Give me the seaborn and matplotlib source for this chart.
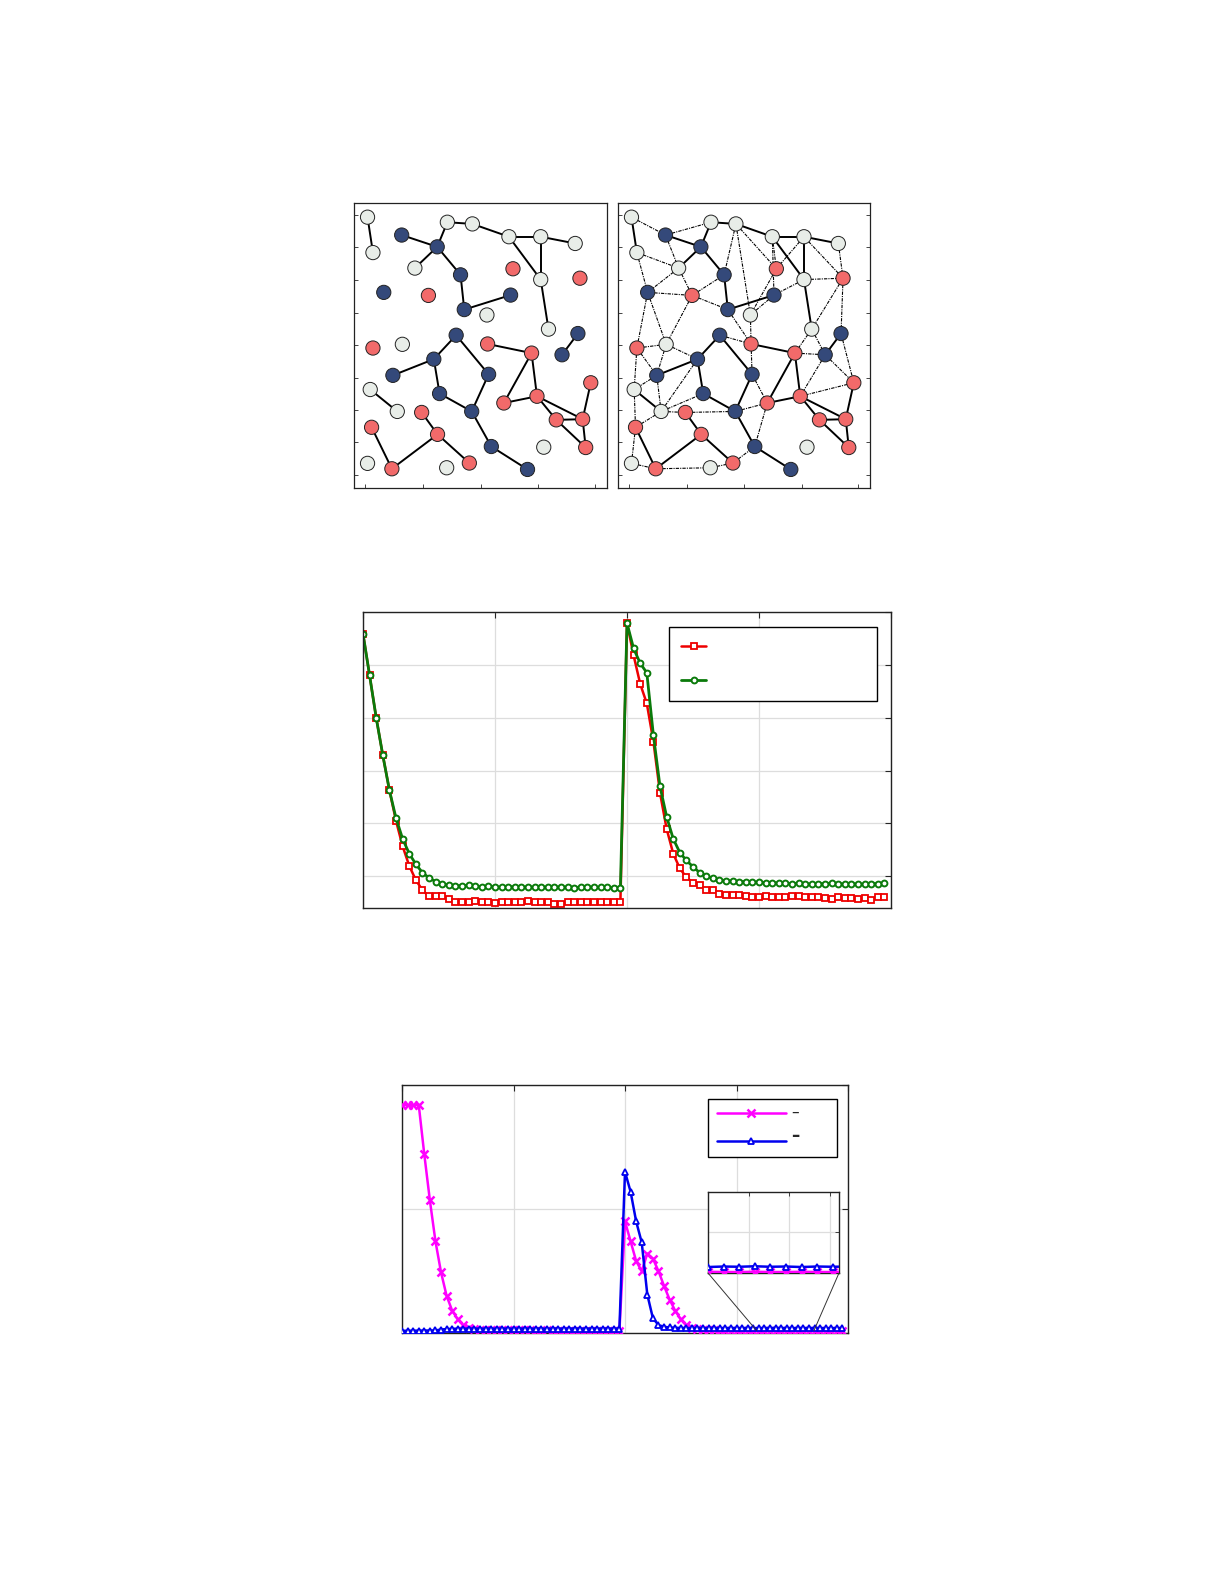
import matplotlib
matplotlib.use("Agg")
import matplotlib.pyplot as plt
import seaborn as sns
import pandas as pd
from matplotlib.patches import ConnectionPatch

sns.set_style("white")
plt.rcParams['font.family'] = ['DejaVu Sans']

# ---------------- network data ----------------
node_x = [82, 98, 183, 288, 318, 392, 222, 357, 512, 500, 594, 696, 594, 710, 130, 262, 368, 505, 435, 617,
          98, 185, 344, 437, 567, 704, 657, 278, 157, 440, 742, 90, 295, 485, 583, 170, 242, 390, 640, 718,
          94, 289, 448, 603, 727, 82, 154, 316, 383, 555]
node_y = [67, 172, 120, 155, 82, 87, 218, 238, 220, 125, 125, 145, 252, 248, 290, 299, 341, 298, 357, 399,
          455, 444, 417, 443, 470, 412, 475, 488, 536, 533, 558, 578, 590, 618, 598, 643, 646, 643, 668, 666,
          690, 711, 747, 749, 750, 797, 813, 810, 796, 815]
node_group = ["L", "L", "N", "N", "L", "L", "L", "N", "R", "L", "L", "L", "L", "R", "N", "R", "N", "N", "L", "L",
              "R", "L", "N", "R", "R", "N", "N", "N", "N", "N", "R", "L", "N", "R", "R", "L", "R", "N", "R", "R",
              "R", "R", "N", "L", "R", "L", "R", "L", "R", "N"]
solid_edges = [(1, 2), (3, 4), (4, 5), (4, 7), (5, 6), (6, 10), (10, 11), (11, 12), (10, 13), (11, 13), (13, 20),
               (4, 8), (8, 17), (17, 18), (26, 27), (24, 25), (25, 34), (25, 35), (34, 35), (23, 28), (23, 30),
               (28, 29), (28, 33), (33, 38), (30, 38), (38, 43), (43, 50), (32, 36), (35, 39), (35, 40), (39, 40),
               (40, 31), (40, 45), (39, 45), (37, 42), (42, 47), (42, 49), (41, 47)]
dashed_edges = [(1, 3), (2, 7), (3, 7), (3, 5), (2, 15), (7, 15), (6, 8), (6, 9), (6, 19), (7, 16), (15, 16),
                (16, 8), (16, 17), (16, 22), (15, 22), (15, 21), (10, 9), (10, 18), (11, 9), (13, 14), (12, 14),
                (11, 14), (13, 18), (14, 26), (14, 20), (18, 19), (9, 19), (19, 24), (17, 24), (23, 24), (24, 30),
                (20, 25), (20, 27), (25, 27), (27, 31), (26, 31), (27, 35), (22, 28), (22, 29), (21, 22), (21, 29),
                (21, 32), (29, 32), (29, 36), (28, 36), (36, 37), (37, 38), (38, 34), (30, 34), (34, 43), (32, 41),
                (36, 41), (41, 46), (46, 47), (47, 48), (48, 49), (49, 43), (31, 35), (36, 33)]
group_colors = {"N": "#34497a", "R": "#f26a6a", "L": "#e8ede8"}
net_xticks = [75, 247, 417, 587, 755]
net_yticks = [60, 155, 253, 350, 447, 545, 640, 735, 830]

# ---------------- middle chart data ----------------
red_vals = [5.59, 4.80, 4.00, 3.29, 2.63, 2.05, 1.57, 1.20, 0.93, 0.74, 0.62, 0.62, 0.62, 0.57, 0.52, 0.52, 0.52,
            0.53, 0.51, 0.51, 0.50, 0.52, 0.51, 0.51, 0.52, 0.53, 0.52, 0.52, 0.52, 0.48, 0.48, 0.52, 0.52, 0.51,
            0.52, 0.51, 0.51, 0.52, 0.52, 0.52,
            5.79, 5.18, 4.64, 4.27, 3.55, 2.58, 1.90, 1.43, 1.15, 0.98, 0.88, 0.83, 0.75, 0.74, 0.66, 0.65, 0.65,
            0.64, 0.62, 0.61, 0.61, 0.62, 0.61, 0.60, 0.61, 0.63, 0.62, 0.61, 0.60, 0.61, 0.58, 0.57, 0.60, 0.58,
            0.58, 0.57, 0.58, 0.56, 0.60, 0.60]
green_vals = [5.59, 4.80, 4.00, 3.29, 2.63, 2.10, 1.71, 1.43, 1.23, 1.07, 0.97, 0.90, 0.86, 0.83, 0.82, 0.82, 0.83,
              0.81, 0.80, 0.81, 0.80, 0.79, 0.80, 0.80, 0.79, 0.80, 0.79, 0.80, 0.79, 0.79, 0.80, 0.79, 0.78, 0.80,
              0.80, 0.79, 0.79, 0.79, 0.78, 0.78,
              5.79, 5.31, 5.03, 4.85, 3.67, 2.70, 2.13, 1.71, 1.45, 1.30, 1.18, 1.07, 1.01, 0.96, 0.93, 0.92, 0.91,
              0.90, 0.90, 0.89, 0.89, 0.88, 0.88, 0.87, 0.87, 0.86, 0.87, 0.86, 0.85, 0.86, 0.86, 0.87, 0.86, 0.85,
              0.86, 0.85, 0.85, 0.86, 0.86, 0.87]
mid_xticks = [0, 20, 40, 60, 80]
mid_yticks = [1, 2, 3, 4, 5, 6]

# ---------------- bottom chart data ----------------
mag_vals = [1.84, 1.84, 1.84, 1.84, 1.44, 1.07, 0.74, 0.49, 0.30, 0.18, 0.11, 0.064, 0.043, 0.030, 0.026, 0.024,
            0.024, 0.023, 0.024, 0.022, 0.022, 0.021, 0.022, 0.021, 0.020, 0.020, 0.021, 0.020, 0.019, 0.019,
            0.019, 0.018, 0.018, 0.017, 0.017, 0.017, 0.016, 0.016, 0.016, 0.016,
            0.90, 0.74, 0.58, 0.50, 0.64, 0.60, 0.50, 0.38, 0.27, 0.18, 0.11, 0.064, 0.043, 0.030, 0.024, 0.022,
            0.021, 0.020, 0.020, 0.020, 0.019, 0.020, 0.019, 0.019, 0.020, 0.019, 0.019, 0.020, 0.019, 0.019,
            0.020, 0.019, 0.019, 0.019, 0.020, 0.019, 0.019, 0.020, 0.019, 0.019]
blue_vals = [0.018, 0.018, 0.019, 0.019, 0.020, 0.020, 0.021, 0.028, 0.032, 0.034, 0.035, 0.035, 0.036, 0.036,
             0.035, 0.036, 0.036, 0.035, 0.036, 0.036, 0.035, 0.036, 0.036, 0.035, 0.036, 0.036, 0.035, 0.036,
             0.036, 0.035, 0.036, 0.036, 0.035, 0.036, 0.036, 0.035, 0.036, 0.036, 0.035, 0.036,
             1.30, 1.14, 0.90, 0.73, 0.31, 0.12, 0.064, 0.050, 0.045, 0.042, 0.041, 0.040, 0.040, 0.041, 0.040,
             0.040, 0.041, 0.040, 0.040, 0.041, 0.040, 0.040, 0.041, 0.040, 0.039, 0.041, 0.040, 0.042, 0.040,
             0.041, 0.039, 0.041, 0.040, 0.041, 0.040, 0.041, 0.039, 0.040, 0.040, 0.040]
bot_xticks = [0, 20, 40, 60, 80]
bot_yticks = [0, 1, 2]
inset_xticks = [66.6, 69.2, 71.8]
inset_yticks = [0.18]

W, H = 1225, 1585
fig = plt.figure(figsize=(W / 100, H / 100), dpi=100)


def fax(x0, y0, x1, y1):
    return fig.add_axes([x0 / W, 1 - y1 / H, (x1 - x0) / W, (y1 - y0) / H])


nodes = pd.DataFrame({"x": node_x, "y": node_y, "g": node_group})


def draw_net(ax, dashed):
    if dashed:
        for a, b in dashed_edges:
            ax.plot([node_x[a - 1], node_x[b - 1]], [node_y[a - 1], node_y[b - 1]],
                    color="black", lw=0.8, ls=(0, (3, 1, 1, 1)), zorder=1)
    for a, b in solid_edges:
        ax.plot([node_x[a - 1], node_x[b - 1]], [node_y[a - 1], node_y[b - 1]],
                color="black", lw=1.4, zorder=2)
    sns.scatterplot(data=nodes, x="x", y="y", hue="g", palette=group_colors, s=105,
                    edgecolor="#222222", linewidth=0.7, legend=False, ax=ax, zorder=3)
    ax.set_xlim(42, 790)
    ax.set_ylim(870, 25)
    ax.set_xticks(net_xticks)
    ax.set_yticks(net_yticks)
    ax.set_xticklabels([])
    ax.set_yticklabels([])
    ax.set_xlabel("")
    ax.set_ylabel("")
    ax.tick_params(direction="in", length=3, width=0.6, right=dashed, left=True, bottom=True)
    for s in ax.spines.values():
        s.set_linewidth(0.9)
        s.set_color("#222222")


axL = fax(354, 203, 607, 488)
draw_net(axL, False)
axR = fax(618, 203, 870, 488)
draw_net(axR, True)

# ---------------- middle chart ----------------
axM = fax(363, 612, 891, 908)
idx = list(range(len(red_vals)))
mid = pd.DataFrame({"i": idx, "red": red_vals, "green": green_vals})
sns.lineplot(data=mid, x="i", y="red", color="#ee0000", lw=1.8, marker="s", ms=3.8, mfc="white",
             mec="#ee0000", mew=1.3, ax=axM, label=" ")
sns.lineplot(data=mid, x="i", y="green", color="#0a7a0a", lw=2.0, marker="o", ms=4.2, mfc="white",
             mec="#0a7a0a", mew=1.4, ax=axM, label="  ")
axM.set_xlim(0, 80)
axM.set_ylim(0.4, 6.0)
axM.set_xticks(mid_xticks)
axM.set_yticks(mid_yticks)
axM.set_xticklabels([])
axM.set_yticklabels([])
axM.set_xlabel("")
axM.set_ylabel("")
axM.grid(True, color="#dddddd", lw=0.9)
axM.tick_params(direction="in", length=4, width=0.8, top=True, right=True)
for s in axM.spines.values():
    s.set_linewidth(1.0)
    s.set_color("#222222")
leg = axM.legend(loc="upper left", bbox_to_anchor=(0.566, 0.726, 0.42, 0.247), mode="expand",
                 handlelength=1.8, labelspacing=1.5, borderpad=0.9, fancybox=False, framealpha=1,
                 edgecolor="black", fontsize=10)
leg.get_frame().set_linewidth(1.0)

# ---------------- bottom chart ----------------
axB = fax(402, 1085, 848, 1333)
bot = pd.DataFrame({"i": list(range(len(mag_vals))), "mag": mag_vals, "blue": blue_vals})


def draw_bot(ax, lab=True):
    sns.lineplot(data=bot, x="i", y="mag", color="#ff00ff", lw=1.8, marker="x", ms=6, mew=1.8,
                 mec="#ff00ff", ax=ax, label=" " if lab else None, zorder=3)
    sns.lineplot(data=bot, x="i", y="blue", color="#0000ee", lw=1.8, marker="^", ms=4.8, mfc="white",
                 mec="#0000ee", mew=1.3, ax=ax, label="  " if lab else None, zorder=3)


draw_bot(axB)
axB.set_xlim(0, 79.3)
axB.set_ylim(0, 2.0)
axB.set_xticks(bot_xticks)
axB.set_yticks(bot_yticks)
axB.set_xticklabels([])
axB.set_yticklabels([])
axB.set_xlabel("")
axB.set_ylabel("")
axB.grid(True, color="#dddddd", lw=0.9)
axB.tick_params(direction="in", length=4, width=0.8, top=True, right=True)
for s in axB.spines.values():
    s.set_linewidth(1.0)
    s.set_color("#222222")
legB = axB.legend(loc="upper left", bbox_to_anchor=(0.671, 0.773, 0.32, 0.20), mode="expand",
                  handlelength=5.0, labelspacing=1.0, borderpad=0.6, fancybox=False, framealpha=1,
                  edgecolor="black", fontsize=10)
legB.get_frame().set_linewidth(1.0)
legB.set_zorder(5)
axB.text(0.881, 0.89, "–", transform=axB.transAxes, fontsize=11, ha="center", va="center", zorder=20)
axB.text(0.881, 0.795, "–", transform=axB.transAxes, fontsize=12, fontweight="bold", ha="center",
         va="center", zorder=20)

axI = fax(708, 1192, 839, 1273)
draw_bot(axI, lab=False)
axI.set_xlim(64, 72.4)
axI.set_ylim(0.015, 0.34)
axI.set_xticks(inset_xticks)
axI.set_yticks(inset_yticks)
axI.set_xticklabels([])
axI.set_yticklabels([])
axI.set_xlabel("")
axI.set_ylabel("")
axI.grid(True, color="#dddddd", lw=0.9)
axI.tick_params(direction="in", length=3, width=0.6, right=True, top=True)
for s in axI.spines.values():
    s.set_linewidth(1.0)
    s.set_color("#222222")

for xa, xb in [(0, 63.6), (1, 73.9)]:
    cp = ConnectionPatch(xyA=(xa, 0), coordsA=axI.transAxes, xyB=(xb, 0.02), coordsB=axB.transData,
                         color="#333333", lw=0.7)
    fig.add_artist(cp)

fig.savefig("out.png", dpi=100)
